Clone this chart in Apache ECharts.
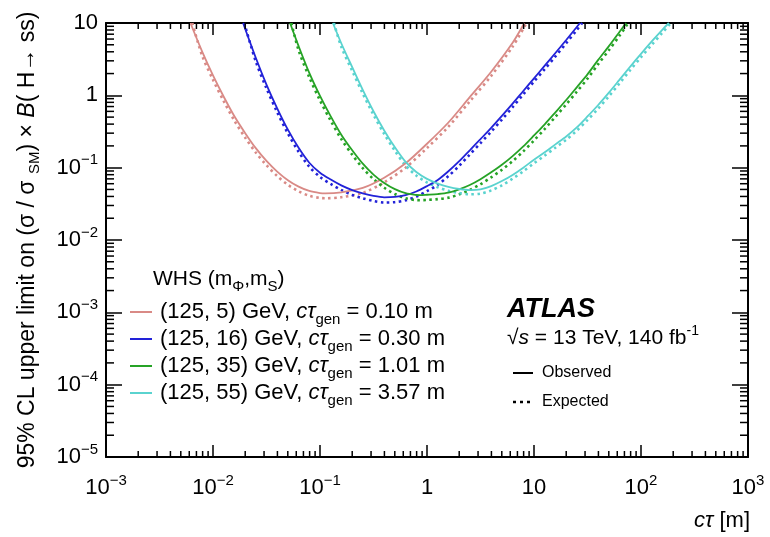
<!DOCTYPE html>
<html><head><meta charset="utf-8">
<script src="https://cdn.jsdelivr.net/npm/echarts@6/dist/echarts.min.js"></script>
<style>html,body{margin:0;padding:0;background:#fff}#c{width:770px;height:537px}</style>
</head><body><div id="c"></div>
<script>
const FONT = '"Liberation Sans", Arial, Helvetica, sans-serif';

// ---------------- data ----------------
const legendMasses = ['(125, 5) GeV', '(125, 16) GeV', '(125, 35) GeV', '(125, 55) GeV'];
const legendCtau = ['0.10', '0.30', '1.01', '3.57'];
const colors = ['#d98a86', '#2222d8', '#26a326', '#5ad3cf'];

// (125, 5) GeV
const pinkObsX = [0.00615, 0.00794, 0.01, 0.0126, 0.0158, 0.02, 0.0251, 0.0316, 0.0398, 0.0501, 0.0631, 0.0794, 0.1, 0.112, 0.158, 0.251, 0.398, 0.631, 1.0, 1.585, 2.51, 3.98, 6.31, 8.13];
const pinkObsY = [10, 4.0, 1.89, 0.957, 0.518, 0.300, 0.186, 0.124, 0.0881, 0.067, 0.0546, 0.0476, 0.0446, 0.0442, 0.0456, 0.0524, 0.0725, 0.115, 0.214, 0.421, 0.944, 2.12, 5.33, 10];
const pinkExpX = [0.0064, 0.00794, 0.01, 0.0126, 0.0158, 0.02, 0.0251, 0.0316, 0.0398, 0.0501, 0.0631, 0.0794, 0.1, 0.112, 0.158, 0.251, 0.398, 0.631, 1.0, 1.585, 2.51, 3.98, 6.31, 8.5];
const pinkExpY = [10, 3.5, 1.64, 0.83, 0.45, 0.26, 0.162, 0.108, 0.0765, 0.058, 0.0472, 0.0408, 0.0381, 0.0378, 0.0390, 0.0448, 0.0625, 0.100, 0.187, 0.368, 0.825, 1.86, 4.7, 10];

// (125, 16) GeV
const blueObsX = [0.0191, 0.0251, 0.0316, 0.0398, 0.0501, 0.0631, 0.0794, 0.1, 0.126, 0.158, 0.2, 0.251, 0.316, 0.398, 0.501, 0.631, 0.794, 1.0, 1.26, 1.585, 2.0, 2.51, 3.16, 3.98, 5.01, 6.31, 7.94, 10, 12.6, 15.85, 20, 25.1, 26.9];
const blueObsY = [10, 3.31, 1.41, 0.661, 0.335, 0.188, 0.117, 0.0851, 0.0684, 0.0569, 0.049, 0.0442, 0.0407, 0.0389, 0.0394, 0.0417, 0.0468, 0.0556, 0.0676, 0.0891, 0.123, 0.174, 0.248, 0.355, 0.519, 0.767, 1.148, 1.72, 2.57, 3.85, 5.82, 8.81, 10];
const blueExpX = [0.0196, 0.0251, 0.0316, 0.0398, 0.0501, 0.0631, 0.0794, 0.1, 0.126, 0.158, 0.2, 0.251, 0.316, 0.398, 0.501, 0.631, 0.794, 1.0, 1.26, 1.585, 2.0, 2.51, 3.16, 3.98, 5.01, 6.31, 7.94, 10, 12.6, 15.85, 20, 25.1, 28.2];
const blueExpY = [10, 2.95, 1.25, 0.585, 0.297, 0.166, 0.103, 0.0745, 0.0595, 0.0492, 0.0420, 0.0377, 0.0346, 0.0330, 0.0334, 0.0354, 0.0398, 0.0475, 0.058, 0.0765, 0.106, 0.152, 0.218, 0.315, 0.462, 0.685, 1.03, 1.55, 2.3, 3.45, 5.25, 8.0, 10];

// (125, 35) GeV
const greenObsX = [0.0525, 0.0631, 0.0794, 0.1, 0.126, 0.158, 0.2, 0.251, 0.316, 0.398, 0.501, 0.631, 0.794, 0.861, 1.0, 1.26, 1.585, 2.0, 2.51, 3.16, 3.98, 5.01, 6.31, 7.94, 10, 12.6, 15.85, 20, 25.1, 31.6, 39.8, 50.1, 63.1, 72.4];
const greenObsY = [10, 4.79, 2.04, 0.982, 0.511, 0.286, 0.174, 0.1135, 0.0802, 0.0614, 0.0505, 0.0444, 0.0419, 0.0417, 0.0422, 0.0432, 0.0452, 0.0501, 0.0575, 0.0692, 0.0861, 0.1096, 0.1445, 0.197, 0.279, 0.398, 0.582, 0.861, 1.29, 1.95, 3.09, 4.79, 7.59, 10];
const greenExpX = [0.054, 0.0631, 0.0794, 0.1, 0.126, 0.158, 0.2, 0.251, 0.316, 0.398, 0.501, 0.631, 0.794, 0.861, 1.0, 1.26, 1.585, 2.0, 2.51, 3.16, 3.98, 5.01, 6.31, 7.94, 10, 12.6, 15.85, 20, 25.1, 31.6, 39.8, 50.1, 63.1, 76];
const greenExpY = [10, 4.2, 1.78, 0.85, 0.445, 0.249, 0.151, 0.0985, 0.0695, 0.0528, 0.0432, 0.0378, 0.0356, 0.0355, 0.0358, 0.0367, 0.0385, 0.0428, 0.0492, 0.059, 0.0735, 0.0935, 0.123, 0.168, 0.238, 0.343, 0.505, 0.75, 1.12, 1.70, 2.7, 4.2, 6.7, 10];

// (125, 55) GeV
const cyanObsX = [0.132, 0.158, 0.2, 0.251, 0.316, 0.398, 0.501, 0.631, 0.794, 1.0, 1.26, 1.585, 2.0, 2.51, 3.16, 3.98, 5.01, 6.31, 7.94, 10, 12.6, 15.85, 20, 25.1, 31.6, 39.8, 50.1, 63.1, 79.4, 100, 126, 158, 182];
const cyanObsY = [10, 5.25, 2.45, 1.19, 0.603, 0.327, 0.191, 0.120, 0.0871, 0.070, 0.0603, 0.0543, 0.0507, 0.049, 0.0501, 0.0556, 0.0653, 0.0794, 0.1, 0.129, 0.163, 0.21, 0.27, 0.36, 0.51, 0.735, 1.09, 1.65, 2.5, 3.75, 5.56, 8.04, 10];
const cyanExpX = [0.135, 0.158, 0.2, 0.251, 0.316, 0.398, 0.501, 0.631, 0.794, 1.0, 1.26, 1.585, 2.0, 2.51, 3.16, 3.98, 5.01, 6.31, 7.94, 10, 12.6, 15.85, 20, 25.1, 31.6, 39.8, 50.1, 63.1, 79.4, 100, 126, 158, 190];
const cyanExpY = [10, 4.7, 2.18, 1.06, 0.54, 0.293, 0.171, 0.107, 0.078, 0.0625, 0.0535, 0.0480, 0.0445, 0.0428, 0.0437, 0.0485, 0.057, 0.0705, 0.089, 0.115, 0.147, 0.189, 0.243, 0.325, 0.455, 0.655, 0.97, 1.47, 2.24, 3.36, 5.0, 7.3, 10];

const xTickExps = [-3, -2, -1, 0, 1, 2, 3];
const xTickLabels = ['10{sup|−3}', '10{sup|−2}', '10{sup|−1}', '1', '10', '10{sup|2}', '10{sup|3}'];
const yTickExps = [-5, -4, -3, -2, -1, 0, 1];
const yTickLabels = ['10{sup|−5}', '10{sup|−4}', '10{sup|−3}', '10{sup|−2}', '10{sup|−1}', '1', '10'];

const X_MIN = 1e-3, X_MAX = 1e3, Y_MIN = 1e-5, Y_MAX = 10;

// ---------------- helpers ----------------
function pairs(xs, ys) { return xs.map((x, i) => [x, ys[i]]); }
function fmt(exps, labels) {
  return function (v) {
    const e = Math.round(Math.log10(v));
    const i = exps.indexOf(e);
    return i >= 0 ? labels[i] : '';
  };
}
const minorX = [], minorY = [];
for (let k = -3; k < 3; k++) for (let m = 2; m <= 9; m++) minorX.push(m * Math.pow(10, k));
for (let k = -5; k < 1; k++) for (let m = 2; m <= 9; m++) minorY.push(m * Math.pow(10, k));

const tickRich = {
  sup: { fontSize: 15, fontFamily: FONT, color: '#000', verticalAlign: 'top', lineHeight: 20 }
};
const baseLabel = { color: '#000', fontSize: 22, fontFamily: FONT, lineHeight: 30, rich: tickRich };

function lineSeries(name, xs, ys, color, dashed) {
  return {
    name: name, type: 'line', xAxisIndex: 0, yAxisIndex: 0,
    data: pairs(xs, ys), showSymbol: false, symbol: 'none', smooth: 0.3,
    clip: true, silent: true,
    lineStyle: dashed ? { color: color, width: 2.6, type: [2.5, 3.5], cap: 'butt' }
                      : { color: color, width: 1.8 },
    z: dashed ? 3 : 4
  };
}

const minorTickSeries = [
  {
    type: 'custom', xAxisIndex: 0, yAxisIndex: 0, silent: true, clip: false, z: 6,
    data: minorX.map(v => [v, Y_MIN]),
    renderItem: function (p, api) {
      const v = api.value(0);
      const b = api.coord([v, Y_MIN]), t = api.coord([v, Y_MAX]);
      return { type: 'group', children: [
        { type: 'line', shape: { x1: b[0], y1: b[1], x2: b[0], y2: b[1] - 6 }, style: { stroke: '#000', lineWidth: 1.5 } },
        { type: 'line', shape: { x1: t[0], y1: t[1], x2: t[0], y2: t[1] + 6 }, style: { stroke: '#000', lineWidth: 1.5 } }
      ]};
    }
  },
  {
    type: 'custom', xAxisIndex: 0, yAxisIndex: 0, silent: true, clip: false, z: 6,
    data: minorY.map(v => [X_MIN, v]),
    renderItem: function (p, api) {
      const v = api.value(1);
      const l = api.coord([X_MIN, v]), r = api.coord([X_MAX, v]);
      return { type: 'group', children: [
        { type: 'line', shape: { x1: l[0], y1: l[1], x2: l[0] + 8, y2: l[1] }, style: { stroke: '#000', lineWidth: 1.5 } },
        { type: 'line', shape: { x1: r[0], y1: r[1], x2: r[0] - 8, y2: r[1] }, style: { stroke: '#000', lineWidth: 1.5 } }
      ]};
    }
  }
];

const series = [
  lineSeries('pinkExp', pinkExpX, pinkExpY, colors[0], true),
  lineSeries('pinkObs', pinkObsX, pinkObsY, colors[0], false),
  lineSeries('blueExp', blueExpX, blueExpY, colors[1], true),
  lineSeries('blueObs', blueObsX, blueObsY, colors[1], false),
  lineSeries('greenExp', greenExpX, greenExpY, colors[2], true),
  lineSeries('greenObs', greenObsX, greenObsY, colors[2], false),
  lineSeries('cyanExp', cyanExpX, cyanExpY, colors[3], true),
  lineSeries('cyanObs', cyanObsX, cyanObsY, colors[3], false)
].concat(minorTickSeries);

// ---------------- legend / annotations ----------------
const legRich = {
  it: { fontStyle: 'italic', fontSize: 22, fontFamily: FONT, color: '#000', lineHeight: 30 },
  sub: { fontSize: 15, fontFamily: FONT, color: '#000', verticalAlign: 'bottom', lineHeight: 16 }
};
const graphics = [];
graphics.push({
  type: 'text', x: 153, y: 279,
  style: { text: 'WHS (m{sub|Φ},m{sub|S})', fill: '#000', font: '21px ' + FONT, verticalAlign: 'middle', lineHeight: 30, rich: legRich }
});
const rowY = [312, 339, 366, 393];
legendMasses.forEach((m, i) => {
  graphics.push({ type: 'line', shape: { x1: 130, y1: rowY[i], x2: 152, y2: rowY[i] }, style: { stroke: colors[i], lineWidth: 2 } });
  graphics.push({
    type: 'text', x: 160, y: rowY[i],
    style: { text: m + ', {it|cτ}{sub|gen} = ' + legendCtau[i] + ' m', fill: '#000', font: '22px ' + FONT, verticalAlign: 'middle', lineHeight: 30, rich: legRich }
  });
});
graphics.push({ type: 'text', x: 507, y: 310, style: { text: 'ATLAS', fill: '#000', font: 'italic bold 27px ' + FONT, verticalAlign: 'middle' } });
graphics.push({
  type: 'text', x: 507, y: 338,
  style: { text: '√{it|s} = 13 TeV, 140 fb{sup|-1}', fill: '#000', font: '21px ' + FONT, verticalAlign: 'middle', lineHeight: 28,
    rich: { it: { fontStyle: 'italic', fontSize: 21, fontFamily: FONT, lineHeight: 28 }, sup: { fontSize: 14, fontFamily: FONT, verticalAlign: 'top', lineHeight: 18 } } }
});
graphics.push({ type: 'line', shape: { x1: 513, y1: 373, x2: 533, y2: 373 }, style: { stroke: '#000', lineWidth: 2 } });
graphics.push({ type: 'text', x: 542, y: 373, style: { text: 'Observed', fill: '#000', font: '16px ' + FONT, verticalAlign: 'middle' } });
graphics.push({ type: 'line', shape: { x1: 513, y1: 402, x2: 534, y2: 402 }, style: { stroke: '#000', lineWidth: 2.6, lineDash: [3, 4] } });
graphics.push({ type: 'text', x: 542, y: 402, style: { text: 'Expected', fill: '#000', font: '16px ' + FONT, verticalAlign: 'middle' } });
graphics.push({
  type: 'text', x: 750, y: 521,
  style: { text: '{it|cτ} [m]', fill: '#000', font: '22px ' + FONT, align: 'right', verticalAlign: 'middle', lineHeight: 30,
    rich: { it: { fontStyle: 'italic', fontSize: 22, fontFamily: FONT, lineHeight: 30 } } }
});

// ---------------- chart ----------------
const axisLine = { show: true, onZero: false, lineStyle: { color: '#000', width: 2 } };
const option = {
  animation: false,
  backgroundColor: '#fff',
  grid: { left: 106, right: 22, top: 23, bottom: 80, containLabel: false },
  xAxis: [
    { type: 'log', logBase: 10, min: X_MIN, max: X_MAX, position: 'bottom',
      axisLine: axisLine, splitLine: { show: false },
      axisTick: { show: true, inside: true, length: 12, lineStyle: { color: '#000', width: 1.5 } },
      axisLabel: Object.assign({ margin: 16, formatter: fmt(xTickExps, xTickLabels), showMinLabel: true, showMaxLabel: true, hideOverlap: false }, baseLabel) },
    { type: 'log', logBase: 10, min: X_MIN, max: X_MAX, position: 'top',
      axisLine: axisLine, splitLine: { show: false },
      axisTick: { show: true, inside: true, length: 12, lineStyle: { color: '#000', width: 1.5 } },
      axisLabel: { show: false } }
  ],
  yAxis: [
    { type: 'log', logBase: 10, min: Y_MIN, max: Y_MAX, position: 'left',
      axisLine: axisLine, splitLine: { show: false },
      axisTick: { show: true, inside: true, length: 16, lineStyle: { color: '#000', width: 1.5 } },
      axisLabel: Object.assign({ margin: 8, formatter: fmt(yTickExps, yTickLabels), showMinLabel: true, showMaxLabel: true, hideOverlap: false }, baseLabel),
      name: '95% CL upper limit on (σ / σ {sub|SM}) × {it|B}( H→ ss)',
      nameLocation: 'middle', nameRotate: 90, nameGap: 64,
      nameTextStyle: { color: '#000', fontSize: 23, fontFamily: FONT, lineHeight: 28,
        rich: { sub: { fontSize: 15, fontFamily: FONT, color: '#000', verticalAlign: 'bottom', lineHeight: 15 },
                it: { fontStyle: 'italic', fontSize: 23, fontFamily: FONT, color: '#000', lineHeight: 28 } } } },
    { type: 'log', logBase: 10, min: Y_MIN, max: Y_MAX, position: 'right',
      axisLine: axisLine, splitLine: { show: false },
      axisTick: { show: true, inside: true, length: 16, lineStyle: { color: '#000', width: 1.5 } },
      axisLabel: { show: false } }
  ],
  graphic: graphics,
  series: series
};
const chart = echarts.init(document.getElementById('c'));
chart.setOption(option);
</script></body></html>
